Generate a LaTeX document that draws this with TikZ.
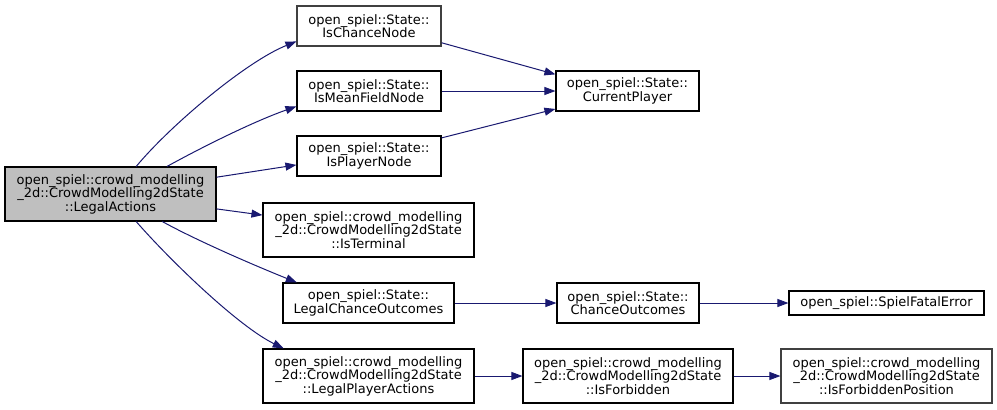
\documentclass[tikz,border=0pt]{standalone}
\usepackage{fontspec}
\setmainfont{DejaVu Sans}
\usetikzlibrary{arrows.meta}
\definecolor{edgeblue}{HTML}{191970}
\definecolor{rootgray}{HTML}{BFBFBF}
\begin{document}
\begin{tikzpicture}[
		x=1pt, y=-1pt,
		every node/.style={font=\fontsize{13}{13.5}\selectfont, align=center, inner sep=0pt},
		fn/.style={draw=black, line width=1.1pt, fill=white},
		fnlink/.style={fn, draw=black!75},
		call/.style={draw=edgeblue, line width=1pt, -{Triangle[length=11pt,width=8pt,fill=edgeblue]}}
	]
	\useasboundingbox (0,0) rectangle (997,410);
	% caller
	\node[fn, fill=rootgray, minimum width=211pt, minimum height=54pt] (legal) at (110.5,194)
		{open\_spiel::crowd\_modelling\\\_2d::CrowdModelling2dState\\::LegalActions};
	% direct callees
	\node[fnlink, minimum width=144pt, minimum height=40pt] (chance) at (369,26)
		{open\_spiel::State::\\IsChanceNode};
	\node[fn, minimum width=144pt, minimum height=40pt] (meanfield) at (369,91)
		{open\_spiel::State::\\IsMeanFieldNode};
	\node[fn, minimum width=144pt, minimum height=40pt] (player) at (369,156)
		{open\_spiel::State::\\IsPlayerNode};
	\node[fn, minimum width=211pt, minimum height=54pt] (terminal) at (368.5,230)
		{open\_spiel::crowd\_modelling\\\_2d::CrowdModelling2dState\\::IsTerminal};
	\node[fn, minimum width=171pt, minimum height=40pt] (legalchance) at (368.5,303)
		{open\_spiel::State::\\LegalChanceOutcomes};
	\node[fn, minimum width=211pt, minimum height=54pt] (legalplayer) at (368.5,376)
		{open\_spiel::crowd\_modelling\\\_2d::CrowdModelling2dState\\::LegalPlayerActions};
	% deeper callees
	\node[fn, minimum width=143pt, minimum height=40pt] (current) at (627.5,91)
		{open\_spiel::State::\\CurrentPlayer};
	\node[fn, minimum width=142pt, minimum height=40pt] (chanceout) at (628,303)
		{open\_spiel::State::\\ChanceOutcomes};
	\node[fn, minimum width=195pt, minimum height=24pt] (fatal) at (886.5,303)
		{open\_spiel::SpielFatalError};
	\node[fn, minimum width=210pt, minimum height=54pt] (forbidden) at (628,376)
		{open\_spiel::crowd\_modelling\\\_2d::CrowdModelling2dState\\::IsForbidden};
	\node[fnlink, minimum width=211pt, minimum height=54pt] (forbiddenpos) at (886.5,376)
		{open\_spiel::crowd\_modelling\\\_2d::CrowdModelling2dState\\::IsForbiddenPosition};

	\draw[call] (legal.47) .. controls +(35,-42) and +(-50,20) .. (chance.192);
	\draw[call] (legal.26) .. controls +(40,-22) and +(-40,14) .. (meanfield.192);
	\draw[call] (legal.9) -- (player.187);
	\draw[call] (legal.-8) -- (terminal.172);
	\draw[call] (legal.-28) .. controls +(40,22) and +(-30,-12) .. (legalchance.164);
	\draw[call] (legal.-47) .. controls +(35,40) and +(-45,-22) .. (legalplayer.162);

	\draw[call] (chance.-13) -- (current.167);
	\draw[call] (meanfield) -- (current);
	\draw[call] (player.14) -- (current.194);
	\draw[call] (legalchance) -- (chanceout);
	\draw[call] (chanceout) -- (fatal);
	\draw[call] (legalplayer) -- (forbidden);
	\draw[call] (forbidden) -- (forbiddenpos);
\end{tikzpicture}
\end{document}
